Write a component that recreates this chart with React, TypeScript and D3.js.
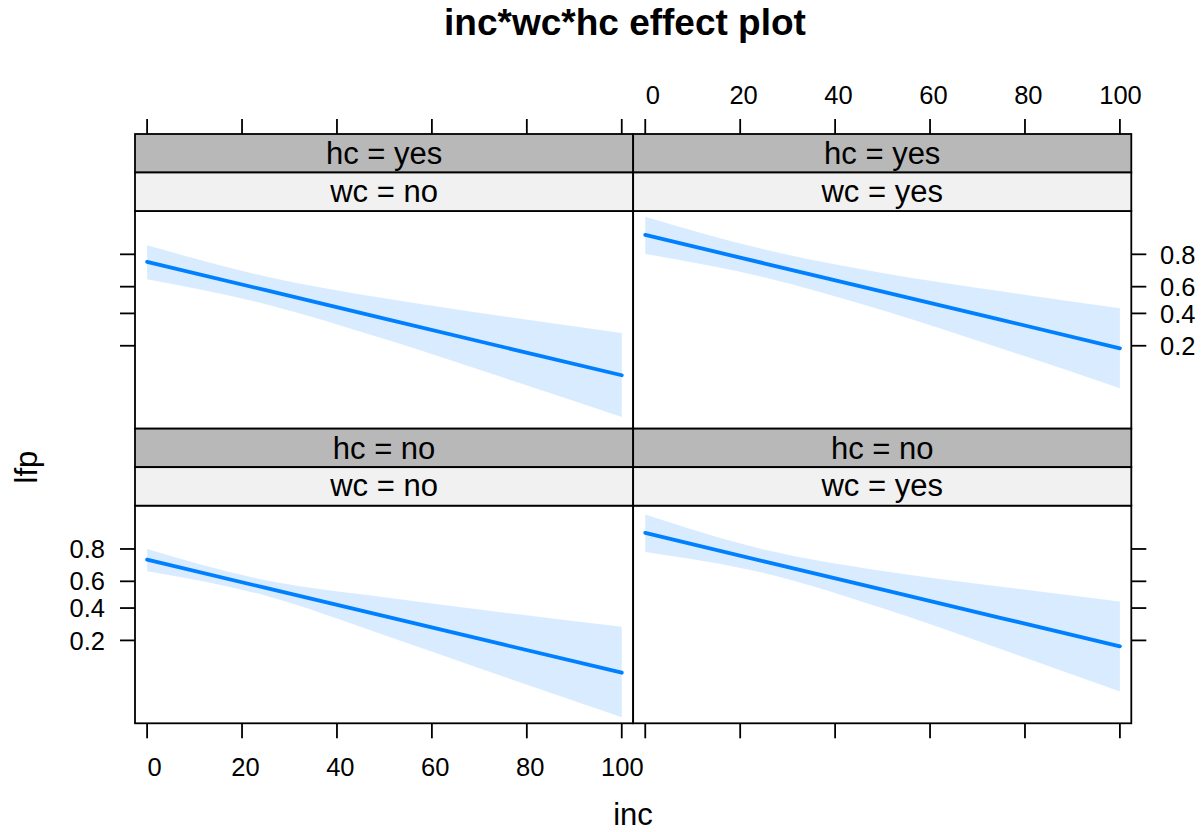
import React from 'react';
import * as d3 from 'd3';

// ---------------- data ----------------
const incLevels = [0, 25, 50, 75, 100];
const incTicks = [0, 20, 40, 60, 80, 100];
const lfpTicks = [0.2, 0.4, 0.6, 0.8];
const hcLevels = ['yes', 'no']; // rows, top -> bottom
const wcLevels = ['no', 'yes']; // columns, left -> right

// hc = yes, wc = no
const fitHcYesWcNo = [0.761, 0.574, 0.363, 0.194, 0.0927];
const lowerHcYesWcNo = [0.653, 0.469, 0.235, 0.0871, 0.028];
const upperHcYesWcNo = [0.84, 0.672, 0.513, 0.379, 0.269];
// hc = yes, wc = yes
const fitHcYesWcYes = [0.878, 0.753, 0.564, 0.354, 0.188];
const lowerHcYesWcYes = [0.802, 0.667, 0.423, 0.187, 0.0645];
const upperHcYesWcYes = [0.926, 0.823, 0.695, 0.566, 0.438];
// hc = no, wc = no
const fitHcNoWcNo = [0.743, 0.551, 0.3425, 0.1811, 0.0858];
const lowerHcNoWcNo = [0.67, 0.4925, 0.2267, 0.0773, 0.0237];
const upperHcNoWcNo = [0.8, 0.608, 0.4808, 0.3687, 0.275];
// hc = no, wc = yes
const fitHcNoWcYes = [0.867, 0.733, 0.538, 0.33, 0.173];
const lowerHcNoWcYes = [0.785, 0.658, 0.398, 0.16, 0.0504];
const upperHcNoWcYes = [0.919, 0.797, 0.672, 0.56, 0.449];

const panelData: Record<string, { fit: number[]; lower: number[]; upper: number[] }> = {
  'yes|no': { fit: fitHcYesWcNo, lower: lowerHcYesWcNo, upper: upperHcYesWcNo },
  'yes|yes': { fit: fitHcYesWcYes, lower: lowerHcYesWcYes, upper: upperHcYesWcYes },
  'no|no': { fit: fitHcNoWcNo, lower: lowerHcNoWcNo, upper: upperHcNoWcNo },
  'no|yes': { fit: fitHcNoWcYes, lower: lowerHcNoWcYes, upper: upperHcNoWcYes },
};

// ---------------- layout ----------------
const W = 1204;
const H = 832;
const FONT = "'Liberation Sans', Arial, Helvetica, sans-serif";
const LEFT = 135;
const COL_W = 498.15;
const TOP = 134;
const ROW_H = 294.65;
const STRIP_H = 38.5;
const TICK = 15;
const TICK_FONT = 25.5;
const LINE_COL = '#0080FF';
const STRIP_DARK = '#B8B8B8';
const STRIP_LIGHT = '#F1F1F1';
const BORDER_W = 1.8;
// horizontal nudge of x tick labels, by number of characters (as in the reference)
const labelNudge = (s: string) => (s.length === 1 ? 7.5 : s.length === 2 ? 3.4 : 0.6);

const logit = (p: number) => Math.log(p / (1 - p));

export default function App() {
  const xScales = wcLevels.map((_, c) =>
    d3.scaleLinear().domain([-2.55, 102.4]).range([LEFT + c * COL_W, LEFT + (c + 1) * COL_W])
  );
  const yScales = hcLevels.map((_, r) => {
    const rowTop = TOP + r * ROW_H;
    return d3
      .scaleLinear()
      .domain([-3.9, 2.7])
      .range([rowTop + ROW_H, rowTop + 2 * STRIP_H]);
  });

  const panels: React.ReactNode[] = [];
  hcLevels.forEach((hc, r) => {
    wcLevels.forEach((wc, c) => {
      const x = xScales[c];
      const y = yScales[r];
      const d = panelData[`${hc}|${wc}`];
      const pts = incLevels.map((v, i) => ({ v, fit: d.fit[i], lo: d.lower[i], hi: d.upper[i] }));
      const area = d3
        .area<typeof pts[0]>()
        .x((p) => x(p.v))
        .y0((p) => y(logit(p.lo)))
        .y1((p) => y(logit(p.hi)))
        .curve(d3.curveMonotoneX);
      const line = d3
        .line<typeof pts[0]>()
        .x((p) => x(p.v))
        .y((p) => y(logit(p.fit)));
      const x0 = LEFT + c * COL_W;
      const rowTop = TOP + r * ROW_H;
      const pTop = rowTop + 2 * STRIP_H;
      const pBot = rowTop + ROW_H;
      const cx = x0 + COL_W / 2;
      panels.push(
        <g key={`${hc}-${wc}`}>
          <rect x={x0} y={pTop} width={COL_W} height={pBot - pTop} fill="#fff" />
          <path d={area(pts) || ''} fill={LINE_COL} fillOpacity={0.15} stroke="none" />
          <path d={line(pts) || ''} fill="none" stroke={LINE_COL} strokeWidth={3.8} strokeLinecap="round" />
          <rect x={x0} y={pTop} width={COL_W} height={pBot - pTop} fill="none" stroke="#000" strokeWidth={BORDER_W} />
          <rect x={x0} y={rowTop} width={COL_W} height={STRIP_H} fill={STRIP_DARK} stroke="#000" strokeWidth={BORDER_W} />
          <rect x={x0} y={rowTop + STRIP_H} width={COL_W} height={STRIP_H} fill={STRIP_LIGHT} stroke="#000" strokeWidth={BORDER_W} />
          <text x={cx} y={rowTop + STRIP_H - 8.3} textAnchor="middle" fontSize={31} fontFamily={FONT}>
            {`hc = ${hc}`}
          </text>
          <text x={cx} y={rowTop + 2 * STRIP_H - 9.3} textAnchor="middle" fontSize={31} fontFamily={FONT}>
            {`wc = ${wc}`}
          </text>
        </g>
      );
    });
  });

  const axes: React.ReactNode[] = [];
  const topEdge = TOP;
  const bottomEdge = TOP + 2 * ROW_H;
  const rightEdge = LEFT + 2 * COL_W;
  // top / bottom x axes
  wcLevels.forEach((_, c) => {
    const x = xScales[c];
    incTicks.forEach((t) => {
      const s = String(t);
      axes.push(
        <line key={`tt${c}-${t}`} x1={x(t)} x2={x(t)} y1={topEdge} y2={topEdge - TICK} stroke="#000" strokeWidth={BORDER_W} />,
        <line key={`bt${c}-${t}`} x1={x(t)} x2={x(t)} y1={bottomEdge} y2={bottomEdge + TICK} stroke="#000" strokeWidth={BORDER_W} />
      );
      if (c === 1) {
        axes.push(
          <text key={`tl${t}`} x={x(t) + labelNudge(s)} y={104} textAnchor="middle" fontSize={TICK_FONT} fontFamily={FONT}>
            {s}
          </text>
        );
      } else {
        axes.push(
          <text key={`bl${t}`} x={x(t) + labelNudge(s)} y={776} textAnchor="middle" fontSize={TICK_FONT} fontFamily={FONT}>
            {s}
          </text>
        );
      }
    });
  });
  // left / right y axes
  hcLevels.forEach((_, r) => {
    const y = yScales[r];
    lfpTicks.forEach((t) => {
      const yy = y(logit(t));
      axes.push(
        <line key={`lt${r}-${t}`} x1={LEFT} x2={LEFT - TICK} y1={yy} y2={yy} stroke="#000" strokeWidth={BORDER_W} />,
        <line key={`rt${r}-${t}`} x1={rightEdge} x2={rightEdge + TICK} y1={yy} y2={yy} stroke="#000" strokeWidth={BORDER_W} />
      );
      if (r === 1) {
        axes.push(
          <text key={`ll${t}`} x={105} y={yy} dy="0.36em" textAnchor="end" fontSize={TICK_FONT} fontFamily={FONT}>
            {t.toFixed(1)}
          </text>
        );
      } else {
        axes.push(
          <text key={`rl${t}`} x={1160} y={yy} dy="0.36em" textAnchor="start" fontSize={TICK_FONT} fontFamily={FONT}>
            {t.toFixed(1)}
          </text>
        );
      }
    });
  });

  return (
    <svg
      width={W}
      height={H}
      viewBox={`0 0 ${W} ${H}`}
      style={{ position: 'absolute', left: 0, top: 0, background: '#fff' }}
    >
      <rect x={0} y={0} width={W} height={H} fill="#fff" />
      <text x={625} y={35} textAnchor="middle" fontSize={37} fontWeight="bold" fontFamily={FONT}>
        inc*wc*hc effect plot
      </text>
      {panels}
      {axes}
      <text x={633} y={825} textAnchor="middle" fontSize={31} fontFamily={FONT}>
        inc
      </text>
      <text
        transform={`translate(37,467) rotate(-90)`}
        textAnchor="middle"
        fontSize={31}
        fontFamily={FONT}
      >
        lfp
      </text>
    </svg>
  );
}
